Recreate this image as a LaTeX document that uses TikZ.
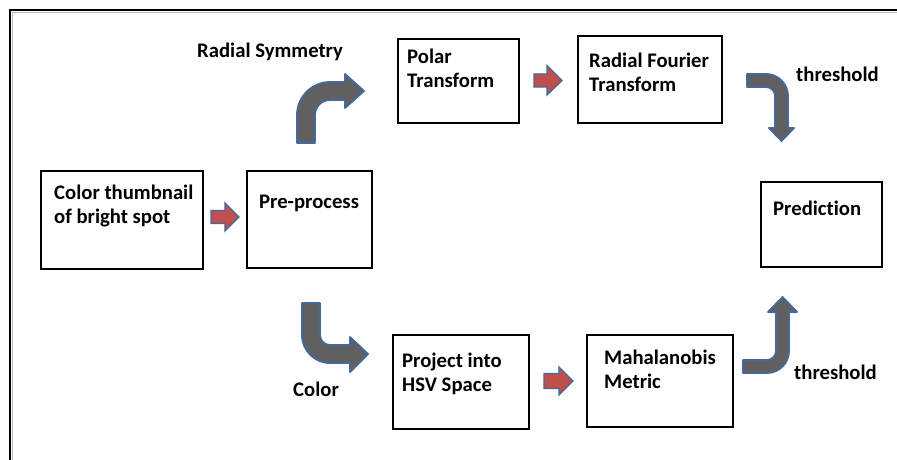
\documentclass[tikz,border=0pt]{standalone}
\usepackage{fontspec}
\setmainfont{Carlito}[Ligatures=NoCommon]
\definecolor{bentfill}{HTML}{606060}
\definecolor{arrline}{HTML}{44699B}
\definecolor{redfill}{HTML}{C0504D}
\begin{document}
\begin{tikzpicture}[x=1pt,y=-1pt,
  box/.style={draw=black,line width=2pt,fill=white,anchor=north west,inner sep=0pt,minimum width=#1},
  lbl/.style={anchor=north west,inner sep=0pt,align=left,font=\fontsize{20.7}{24.5}\selectfont\bfseries},
  bent/.style={fill=bentfill,draw=arrline,line width=1.8pt,line join=round},
  redarr/.style={fill=redfill,draw=arrline,line width=1.3pt,line join=miter}]
\useasboundingbox (0,0) rectangle (897,460);
\fill[white] (0,0) rectangle (897,460);
% frame
\draw[gray!55,line width=1pt] (12,12.5) -- (897,12.5);
\draw[gray!55,line width=1pt] (12.5,12) -- (12.5,460);
\draw[black,line width=2.6pt] (8.7,10) -- (897,10);
\draw[black,line width=2.6pt] (10,8.7) -- (10,460);
% boxes
\node[box=162pt,minimum height=98pt] (thumb) at (40,170) {};
\node[box=125pt,minimum height=97pt] (pre) at (246,170) {};
\node[box=121pt,minimum height=84pt] (polar) at (397,38) {};
\node[box=144pt,minimum height=87pt] (rft) at (577,35) {};
\node[box=121pt,minimum height=85pt] (pred) at (760,181) {};
\node[box=136pt,minimum height=94pt] (hsv) at (392,334) {};
\node[box=146pt,minimum height=92pt] (maha) at (586,334) {};
% box texts
\node[lbl] (thumbT) at (54,183) {\rule{0pt}{16pt}Color thumbnail\\of bright spot};
\node[lbl] (preT) at (259,192) {\rule{0pt}{16pt}Pre-process};
\node[lbl] (polarT) at (407,47) {\rule{0pt}{16pt}Polar\\Transform};
\node[lbl] (rftT) at (589,51) {\rule{0pt}{16pt}Radial Fourier\\Transform};
\node[lbl] (predT) at (773,199) {\rule{0pt}{16pt}Prediction};
\node[lbl] (hsvT) at (402,351) {\rule{0pt}{16pt}Project into\\HSV Space};
\node[lbl] (mahaT) at (604,348) {\rule{0pt}{16pt}Mahalanobis\\Metric};
% free labels
\node[lbl] (radsym) at (197,41) {\rule{0pt}{16pt}Radial Symmetry};
\node[lbl] (thrA) at (796,65) {\rule{0pt}{16pt}threshold};
\node[lbl] (thrB) at (794,363) {\rule{0pt}{16pt}threshold};
\node[lbl] (colorL) at (293,380) {\rule{0pt}{16pt}Color};
% red block arrows
\draw[redarr] (211,210.5) -- (225,210.5) -- (225,203) -- (239,217) -- (225,231) -- (225,223.5) -- (211,223.5) -- cycle;
\draw[redarr] (534,74) -- (547,74) -- (547,65.5) -- (562,80.5) -- (547,95) -- (547,87) -- (534,87) -- cycle;
\draw[redarr] (544,373.5) -- (559,373.5) -- (559,367) -- (573,381) -- (559,395) -- (559,388.5) -- (544,388.5) -- cycle;
% bent arrows
\draw[bent] (297,143) -- (297,115) .. controls (297,96.8) and (311.8,82) .. (330,82) -- (345,82) -- (345,74) -- (364,91) -- (345,108) -- (345,100) -- (330,100) .. controls (321.7,100) and (315,106.7) .. (315,115) -- (315,143) -- cycle;
\draw[bent] (302,303) -- (302,335) .. controls (302,350.5) and (314.5,363) .. (330,363) -- (350,363) -- (350,372) -- (368,354) -- (350,337) -- (350,345) -- (330,345) .. controls (324.5,345) and (320,340.5) .. (320,335) -- (320,303) -- cycle;
\draw[bent] (747,74) -- (766,74) .. controls (778.1,74) and (788,83.9) .. (788,96) -- (788,128) -- (794,128) -- (781.5,141) -- (769,128) -- (775,128) -- (775,96) .. controls (775,91) and (771,87) .. (766,87) -- (747,87) -- cycle;
\draw[bent] (743,360) -- (767,360) .. controls (772,360) and (776,356) .. (776,351) -- (776,312) -- (768,312) -- (782.5,297) -- (797,312) -- (789,312) -- (789,351) .. controls (789,363.1) and (779.1,373) .. (767,373) -- (743,373) -- cycle;
\end{tikzpicture}
\end{document}
